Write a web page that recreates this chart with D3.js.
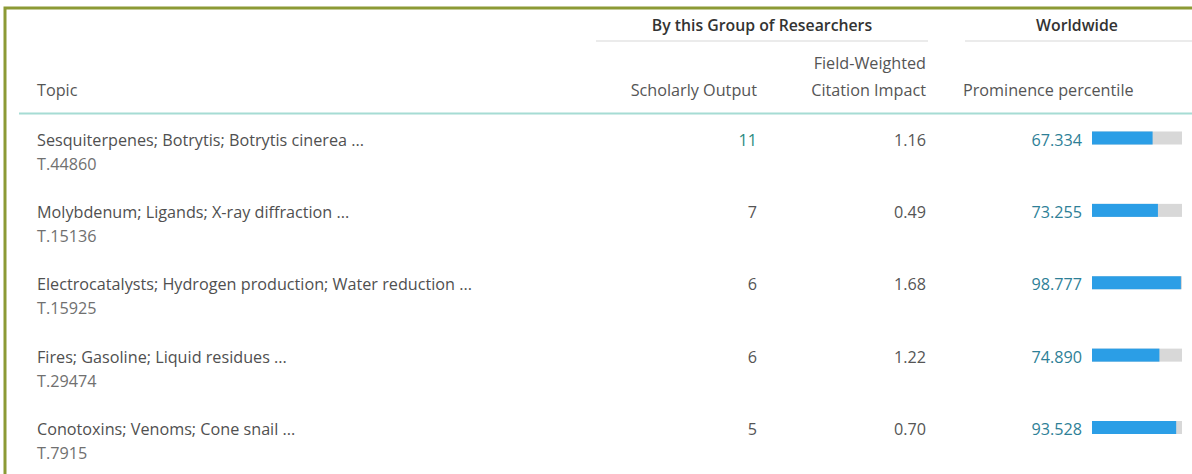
<!DOCTYPE html>
<html>
<head>
<meta charset="utf-8">
<script src="https://cdn.jsdelivr.net/npm/d3@7"></script>
<style>
  html, body { margin: 0; padding: 0; background: #fff; }
  svg { display: block; font-family: "Open Sans", "Noto Sans", sans-serif; }
</style>
</head>
<body>
<div id="main"></div>
<script>
const topics = [
  'Sesquiterpenes; Botrytis; Botrytis cinerea ...',
  'Molybdenum; Ligands; X-ray diffraction ...',
  'Electrocatalysts; Hydrogen production; Water reduction ...',
  'Fires; Gasoline; Liquid residues ...',
  'Conotoxins; Venoms; Cone snail ...'
];
const topicIds = ['T.44860', 'T.15136', 'T.15925', 'T.29474', 'T.7915'];
const scholarlyOutput = [11, 7, 6, 6, 5];
const fwci = [1.16, 0.49, 1.68, 1.22, 0.70];
const prominence = [67.334, 73.255, 98.777, 74.890, 93.528];

const width = 1192, height = 474;
const fsBold = '15.8px';
const fs = '16.2px';
const svg = d3.select('#main').append('svg').attr('width', width).attr('height', height);

// frame (left + top edge only visible)
svg.append('rect').attr('x', 5).attr('y', 8).attr('width', width + 10).attr('height', height + 10)
  .style('fill', 'none').style('stroke', '#8c9a35').style('stroke-width', 3);

// header
let header = svg.append('g').classed('header', true);
header.append('text').text('By this Group of Researchers')
  .attr('x', 762).attr('y', 31).style('text-anchor', 'middle')
  .style('font-size', fsBold).style('font-weight', 600).style('fill', '#333');
header.append('text').text('Worldwide')
  .attr('x', 1077).attr('y', 31).style('text-anchor', 'middle')
  .style('font-size', fsBold).style('font-weight', 600).style('fill', '#333');
header.append('line').attr('x1', 596).attr('x2', 928).attr('y1', 41).attr('y2', 41)
  .style('stroke', '#e4e4e4').style('stroke-width', 1.5);
header.append('line').attr('x1', 965).attr('x2', 1192).attr('y1', 41).attr('y2', 41)
  .style('stroke', '#e4e4e4').style('stroke-width', 1.5);

const headLabels = [
  {t: 'Topic', x: 37, y: 96, a: 'start'},
  {t: 'Scholarly Output', x: 757, y: 96, a: 'end'},
  {t: 'Field-Weighted', x: 926, y: 69, a: 'end'},
  {t: 'Citation Impact', x: 926, y: 96, a: 'end'},
  {t: 'Prominence percentile', x: 963, y: 96, a: 'start'}
];
header.selectAll('text.col').data(headLabels).join('text').classed('col', true)
  .text(d => d.t).attr('x', d => d.x).attr('y', d => d.y)
  .style('text-anchor', d => d.a).style('font-size', fs).style('fill', '#555');

svg.append('line').attr('x1', 19).attr('x2', width).attr('y1', 113.5).attr('y2', 113.5)
  .style('stroke', '#a6dcd4').style('stroke-width', 2);

// rows
let rowY = d3.scaleLinear().domain([0, topics.length - 1]).range([145.5, 435]);
let barX = d3.scaleLinear().domain([0, 100]).range([1092, 1182]);

let rows = svg.selectAll('g.row').data(topics).join('g').classed('row', true)
  .attr('transform', (d, i) => `translate(0, ${rowY(i)})`);

rows.append('text').text(d => d).attr('x', 37).attr('y', 0)
  .style('font-size', fs).style('fill', '#505050');
rows.append('text').text((d, i) => topicIds[i]).attr('x', 37).attr('y', 24)
  .style('font-size', fs).style('fill', '#707070');

rows.append('text').text((d, i) => scholarlyOutput[i]).attr('x', 757).attr('y', 0)
  .style('text-anchor', 'end').style('font-size', fs)
  .style('fill', (d, i) => scholarlyOutput[i] > 10 ? '#2a8a80' : '#555');
rows.append('text').text((d, i) => fwci[i].toFixed(2)).attr('x', 926).attr('y', 0)
  .style('text-anchor', 'end').style('font-size', fs).style('fill', '#555');
rows.append('text').text((d, i) => prominence[i].toFixed(3)).attr('x', 1082).attr('y', 0)
  .style('text-anchor', 'end').style('font-size', fs).style('fill', '#2e7f97');

rows.append('rect').attr('x', barX(0)).attr('y', -14).attr('height', 13)
  .attr('width', barX(100) - barX(0)).style('fill', '#d8d8d8');
rows.append('rect').attr('x', barX(0)).attr('y', -14).attr('height', 13)
  .attr('width', (d, i) => barX(prominence[i]) - barX(0)).style('fill', '#2b9ee6');
</script>
</body>
</html>
